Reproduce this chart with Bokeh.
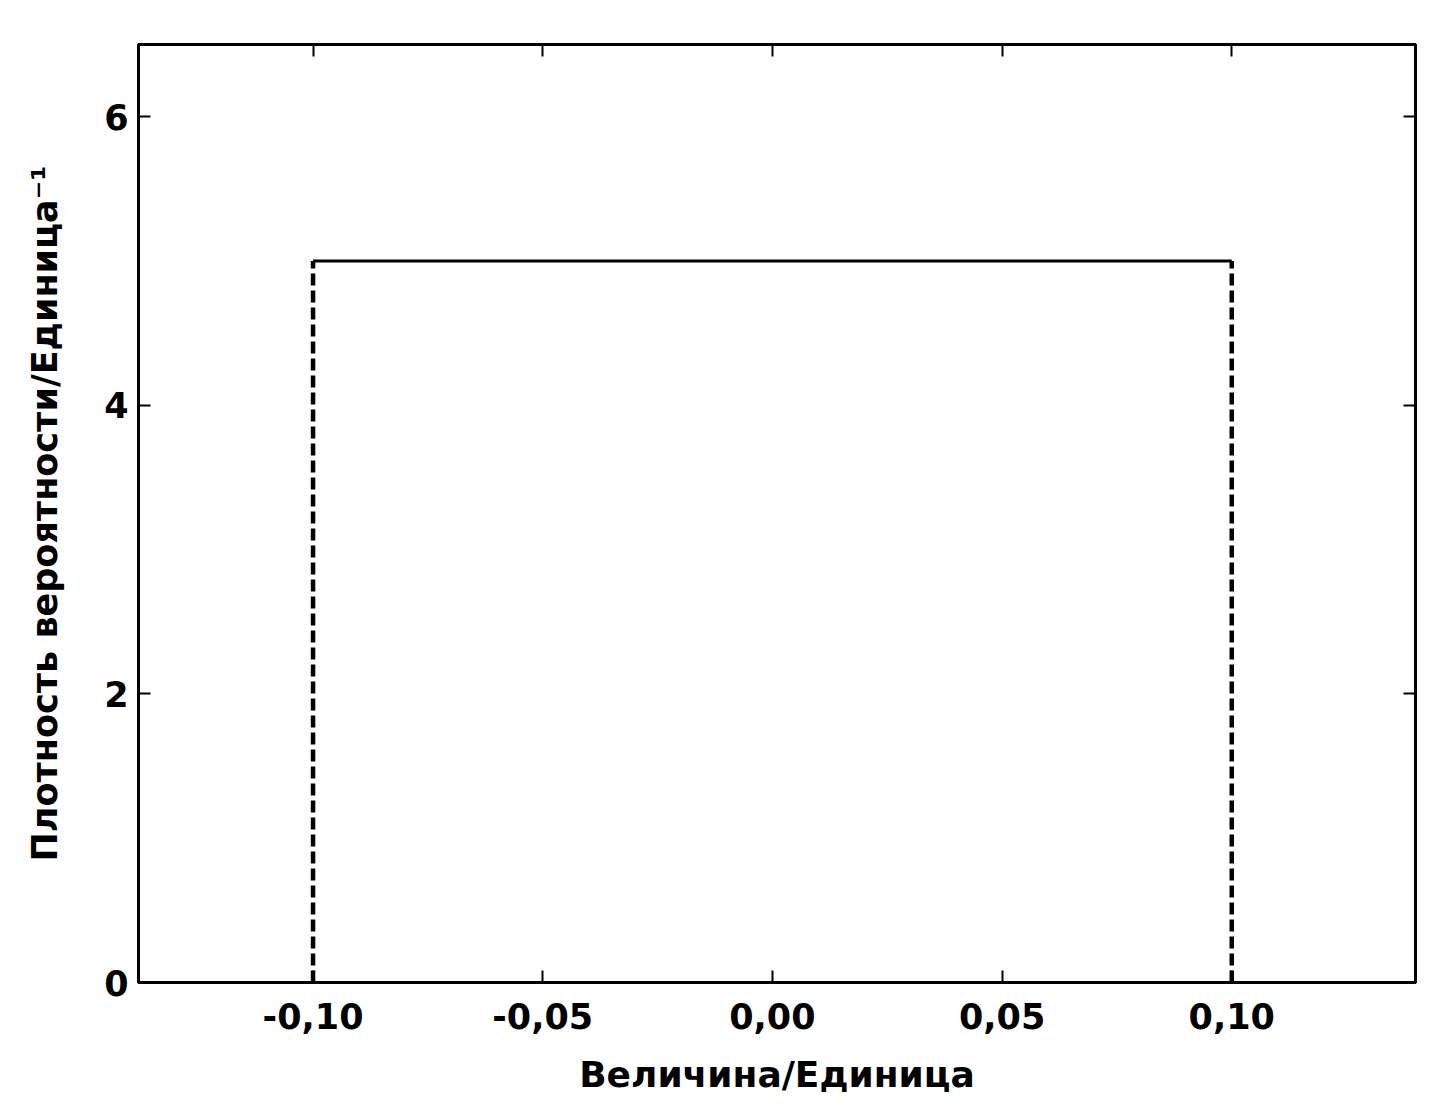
from bokeh.plotting import figure
from bokeh.models import LinearAxis, FixedTicker, Range1d
from bokeh.embed import file_html
from bokeh.resources import INLINE

# data
lower = -0.10
upper = 0.10
density = 5.0
x_min, x_max = -0.138, 0.140
y_min, y_max = 0.0, 6.5
x_ticks = [-0.10, -0.05, 0.0, 0.05, 0.10]
x_tick_labels = ["-0,10", "-0,05", "0,00", "0,05", "0,10"]
y_ticks = [0, 2, 4, 6]
y_tick_labels = ["0", "2", "4", "6"]
x_title = "Величина/Единица"
y_title = "Плотность вероятности/Единица⁻¹"

FONT = "DejaVu Sans"

p = figure(width=1445, height=1097, output_backend="svg", toolbar_location=None,
           x_range=Range1d(x_min, x_max), y_range=Range1d(y_min, y_max),
           min_border_left=138, min_border_right=30, min_border_top=44, min_border_bottom=112)
p.xgrid.visible = False
p.ygrid.visible = False
p.outline_line_color = "black"
p.outline_line_width = 3

# curve: baseline, dashed verticals, top
p.line([x_min, lower], [0, 0], line_color="black", line_width=3)
p.line([upper, x_max], [0, 0], line_color="black", line_width=3)
p.line([lower, upper], [density, density], line_color="black", line_width=3)
p.line([lower, lower], [0, density], line_color="black", line_width=4.5, line_dash="12 5")
p.line([upper, upper], [0, density], line_color="black", line_width=4.5, line_dash="12 5")

def style(ax, ticks, labels=None):
    ax.ticker = FixedTicker(ticks=ticks)
    ax.minor_tick_line_color = None
    ax.major_tick_in = 12
    ax.major_tick_out = 0
    ax.major_tick_line_width = 2
    ax.major_tick_line_color = "black"
    ax.axis_line_color = "black"
    ax.axis_line_width = 3
    if labels:
        ax.major_label_overrides = {t: l for t, l in zip(ticks, labels)}
        ax.major_label_text_font = FONT
        ax.major_label_text_font_style = "bold"
        ax.major_label_text_font_size = "35px"
        ax.major_label_text_color = "black"
    else:
        ax.major_label_overrides = {t: "" for t in ticks}
        ax.major_label_text_color = None

xa = p.xaxis[0]
style(xa, x_ticks, x_tick_labels)
xa.major_label_standoff = 20
xa.axis_label = x_title
xa.axis_label_text_font = FONT
xa.axis_label_text_font_style = "bold"
xa.axis_label_text_font_size = "36px"
xa.axis_label_text_color = "black"
xa.axis_label_standoff = 22

ya = p.yaxis[0]
style(ya, y_ticks, y_tick_labels)
ya.major_label_standoff = 10
ya.axis_label = y_title
ya.axis_label_text_font = FONT
ya.axis_label_text_font_style = "bold"
ya.axis_label_text_font_size = "35px"
ya.axis_label_text_color = "black"
ya.axis_label_standoff = 36

top = LinearAxis()
style(top, x_ticks)
p.add_layout(top, "above")
right = LinearAxis()
style(right, y_ticks)
p.add_layout(right, "right")

open("out.html", "w").write(file_html(p, INLINE))
